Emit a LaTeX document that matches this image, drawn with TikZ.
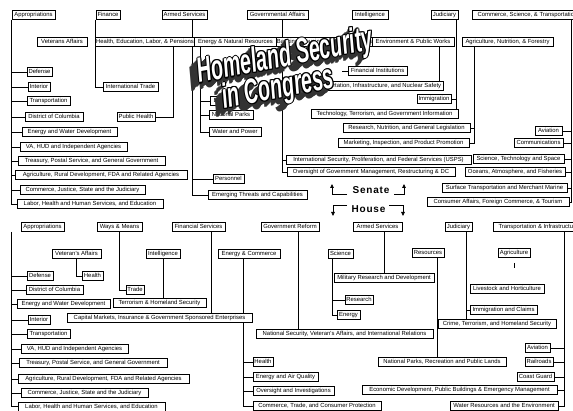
\documentclass[tikz,border=0pt]{standalone}
\usepackage{fontspec}
\newfontfamily\bxfont{Liberation Sans}
\newfontfamily\ttfont{Liberation Sans}
\newfontfamily\lblfont{Liberation Sans}[LetterSpace=8]
\usetikzlibrary{arrows.meta}
\pgfdeclarelayer{back}\pgfdeclarelayer{lines}
\pgfsetlayers{back,lines,main}
\tikzset{
 bx/.style={draw, line width=0.9pt, fill=white, inner sep=0.6pt, minimum height=9pt,
   text height=4.4pt, text depth=1.2pt, font=\bxfont\fontsize{5.9}{6.5}\selectfont},
 cn/.style={line width=0.75pt},
 ttlf/.style={font=\ttfont\bfseries\itshape\fontsize{35}{35}\selectfont, inner sep=0,
   anchor=base, rotate=11, xscale=0.56},
 lbl/.style={font=\lblfont\bfseries\fontsize{10}{10}\selectfont, inner sep=0},
 arr/.style={line width=0.8pt, -{Triangle[length=4pt,width=3.6pt]}}
}
\newcommand\bx[5]{\node[bx, minimum width={#3-#2}] (#1) at ({(#2+#3)/2},#4) {#5};}
\newcommand\ttl[4]{%
 \foreach \d in {1,...,7}{\node[ttlf,text=black!80] (#1s\d) at ({#2-1.2*\d},{#3+1.2*\d}) {#4};}
 \foreach \a in {0,45,...,315}{\node[ttlf,text=black] (#1o\a) at ({#2+1.1*cos(\a)},{#3+1.1*sin(\a)}) {#4};}
 \node[ttlf,text=white] (#1) at (#2,#3) {#4};}
\begin{document}
\begin{tikzpicture}[x=1pt,y=-1pt]
\useasboundingbox (0,0) rectangle (573,411);
\begin{pgfonlayer}{back}\fill[white] (0,0) rectangle (573,411);\end{pgfonlayer}
% ---------------- Senate ----------------
\bx{sapp}{12}{55}{15}{Appropriations}
\bx{sfin}{96}{120}{15}{Finance}
\bx{sarm}{162}{207}{15}{Armed Services}
\bx{sgov}{247}{308}{15}{Governmental Affairs}
\bx{sint}{352}{388}{15}{Intelligence}
\bx{sjud}{431}{458}{15}{Judiciary}
\node[bx, anchor=west, minimum width=110] (scom) at (472,15) {Commerce, Science, \& Transportation};
\bx{sva}{37}{87}{42}{Veterans Affairs}
\bx{shelp}{96}{194}{42}{Health, Education, Labor, \& Pensions}
\bx{senr}{194}{277}{42}{Energy \& Natural Resources}
\bx{sbank}{277}{372}{42}{Banking, Housing, and Urban Affairs}
\bx{sepw}{372}{454}{42}{Environment \& Public Works}
\bx{sag}{462}{553}{42}{Agriculture, Nutrition, \& Forestry}
\bx{sadef}{27}{52}{72}{Defense}
\bx{saint}{28}{50}{87}{Interior}
\bx{satra}{27}{70}{101}{Transportation}
\bx{sadc}{25}{83}{117}{District of Columbia}
\bx{saew}{22}{117}{132}{Energy and Water Development}
\bx{sava}{20}{127}{147}{VA, HUD and Independent Agencies}
\bx{satre}{18}{165}{161}{Treasury, Postal Service, and General Government}
\bx{saag}{15}{187}{175}{Agriculture, Rural Development, FDA and Related Agencies}
\bx{sacjs}{20}{145}{190}{Commerce, Justice, State and the Judiciary}
\bx{salab}{17}{163}{204}{Labor, Health and Human Services, and Education}
\bx{sitr}{103}{158}{87}{International Trade}
\bx{sph}{117}{155}{117}{Public Health}
\bx{spers}{213}{244}{179}{Personnel}
\bx{semerg}{208}{307}{195}{Emerging Threats and Capabilities}
\bx{sen}{210}{236}{101}{Energy}
\bx{snp}{209}{253}{115}{National Parks}
\bx{swp}{209}{261}{132}{Water and Power}
\bx{sisec}{286}{471}{160}{International Security, Proliferation, and Federal Services (USPS)}
\bx{sover}{287}{455}{172}{Oversight of Government Management, Restructuring \& DC}
\bx{sfi}{348}{407}{71}{Financial Institutions}
\bx{stin}{310}{443}{86}{Transportation, Infrastructure, and Nuclear Safety}
\bx{simm}{417}{451}{99}{Immigration}
\bx{stech}{311}{458}{114}{Technology, Terrorism, and Government Information}
\bx{sres}{343}{470}{128}{Research, Nutrition, and General Legislation}
\bx{smark}{338}{469}{143}{Marketing, Inspection, and Product Promotion}
\bx{savi}{535}{562}{131}{Aviation}
\bx{scomm}{514}{563}{143}{Communications}
\bx{ssts}{473}{564}{159}{Science, Technology and Space}
\bx{soaf}{465}{565}{172}{Oceans, Atmosphere, and Fisheries}
\bx{sst}{442}{567}{188}{Surface Transportation and Merchant Marine}
\bx{scaf}{427}{569}{202}{Consumer Affairs, Foreign Commerce, \& Tourism}
% ---------------- House ----------------
\bx{happ}{21}{64}{227}{Appropriations}
\bx{hwm}{97}{142}{227}{Ways \& Means}
\bx{hfs}{172}{225}{227}{Financial Services}
\bx{hgr}{261}{319}{227}{Government Reform}
\bx{harm}{353}{402}{227}{Armed Services}
\bx{hjud}{445}{472}{227}{Judiciary}
\node[bx, anchor=west, minimum width=90] (hti) at (493,227) {Transportation \& Infrastructure};
\bx{hva}{52}{101}{254}{Veteran's Affairs}
\bx{hint}{146}{180}{254}{Intelligence}
\bx{hec}{218}{280}{254}{Energy \& Commerce}
\bx{hsci}{328}{353}{254}{Science}
\bx{hres}{412}{444}{253}{Resources}
\bx{hag}{498}{530}{253}{Agriculture}
\bx{hvh}{82}{103}{276}{Health}
\bx{htrade}{126}{144}{290}{Trade}
\bx{hterr}{113}{206}{303}{Terrorism \& Homeland Security}
\bx{hcap}{67}{252}{318}{Capital Markets, Insurance \& Government Sponsored Enterprises}
\bx{hhe}{253}{273}{362}{Health}
\bx{heaq}{253}{318}{377}{Energy and Air Quality}
\bx{hoi}{253}{334}{391}{Oversight and Investigations}
\bx{hctcp}{253}{381}{406}{Commerce, Trade, and Consumer Protection}
\bx{hns}{256}{433}{334}{National Security, Veteran's Affairs, and International Relations}
\bx{hmil}{334}{434}{278}{Military Research and Development}
\bx{hrs}{345}{373}{300}{Research}
\bx{hen}{337}{360}{315}{Energy}
\bx{hnp}{378}{506}{362}{National Parks, Recreation and Public Lands}
\bx{hlive}{470}{544}{289}{Livestock and Horticulture}
\bx{himm}{470}{537}{310}{Immigration and Claims}
\bx{hcrime}{438}{556}{324}{Crime, Terrorism, and Homeland Security}
\bx{havi}{525}{550}{348}{Aviation}
\bx{hrail}{525}{553}{362}{Railroads}
\bx{hcg}{517}{554}{377}{Coast Guard}
\bx{hed}{362}{557}{390}{Economic Development, Public Buildings \& Emergency Management}
\bx{hwr}{450}{558}{406}{Water Resources and the Environment}
\bx{hadef}{27}{53}{276}{Defense}
\bx{hadc}{26}{83}{290}{District of Columbia}
\bx{haew}{17}{110}{304}{Energy and Water Development}
\bx{haint}{28}{50}{320}{Interior}
\bx{hatra}{27}{70}{334}{Transportation}
\bx{hava}{21}{128}{349}{VA, HUD and Independent Agencies}
\bx{hatre}{19}{167}{363}{Treasury, Postal Service, and General Government}
\bx{haag}{18}{189}{379}{Agriculture, Rural Development, FDA and Related Agencies}
\bx{hacjs}{21}{148}{393}{Commerce, Justice, State and the Judiciary}
\bx{halab}{18}{165}{406.5}{Labor, Health and Human Services, and Education}
% ---------------- connectors ----------------
\coordinate (armx) at ([xshift=7.5pt]sarm.south);
\coordinate (enrx) at ([xshift=-35.5pt]senr.south);
\coordinate (govx) at ([xshift=4.5pt]sgov.south);
\coordinate (epwx) at ([xshift=26pt]sepw.south);
\coordinate (judx) at ([xshift=11.5pt]sjud.south);
\coordinate (agx) at ([xshift=-33.5pt]sag.south);
\coordinate (comx) at ([xshift=99pt]scom.south west);
\coordinate (happx) at ([xshift=-9pt]happ.south west);
\coordinate (fsx) at ([xshift=12.5pt]hfs.south);
\coordinate (ecx) at ([xshift=-6pt]hec.south);
\coordinate (grx) at ([xshift=8pt]hgr.south);
\coordinate (scix) at ([xshift=-8.5pt]hsci.south);
\coordinate (armhx) at ([xshift=6.5pt]harm.south);
\coordinate (resx) at ([xshift=9pt]hres.south);
\coordinate (jhx) at ([xshift=7.5pt]hjud.south);
\coordinate (tix) at ([xshift=71pt]hti.south west);
\begin{pgfonlayer}{lines}
\draw[cn] (sapp.south west) |- (salab.west);
\foreach \n in {sadef,saint,satra,sadc,saew,sava,satre,saag,sacjs}{\draw[cn] (\n.west) -- (\n.west -| sapp.south west);}
\draw[cn] (sfin.south west) |- (sitr.west);
\draw[cn] ([xshift=28pt]shelp.south) |- (sph.east);
\draw[cn] (armx) |- (semerg.west);
\draw[cn] (armx |- spers.west) -- (spers.west);
\draw[cn] (enrx) |- (swp.west);
\draw[cn] (enrx |- snp.west) -- (snp.west);
\draw[cn] (enrx |- sen.west) -- (sen.west);
\draw[cn] (govx) |- (sover.west);
\draw[cn] (govx |- sisec.west) -- (sisec.west);
\draw[cn] (sfi.west) -- ++(-6,0);
\draw[cn] (epwx) -- (epwx |- stin.north);
\draw[cn] (judx) -- (judx |- stech.north);
\draw[cn] (judx |- simm.east) -- (simm.east);
\draw[cn] (agx) |- (smark.east);
\draw[cn] (agx |- sres.east) -- (sres.east);
\draw[cn] (comx) |- (scaf.east);
\foreach \n in {savi,scomm,ssts,soaf,sst}{\draw[cn] (\n.east) -- (\n.east -| comx);}
% House
\draw[cn] (happx) |- (halab.west);
\foreach \n in {hadef,hadc,haew,haint,hatra,hava,hatre,haag,hacjs}{\draw[cn] (\n.west) -- (\n.west -| happx);}
\draw[cn] (hwm.south) |- (htrade.west);
\draw[cn] (hva.south) |- (hvh.west);
\draw[cn] (fsx) -- (fsx |- hcap.north);
\draw[cn] (hint.south) -- (hint.south |- hterr.north);
\draw[cn] (ecx) |- (hctcp.west);
\foreach \n in {hhe,heaq,hoi}{\draw[cn] (\n.west) -- (\n.west -| ecx);}
\draw[cn] (grx) -- (grx |- hns.north);
\draw[cn] (scix) |- (hen.west);
\draw[cn] (scix |- hrs.west) -- (hrs.west);
\draw[cn] (armhx) -- (armhx |- hmil.north);
\draw[cn] (resx) -- (resx |- hnp.north);
\draw[cn] (jhx) -- (jhx |- hcrime.north);
\draw[cn] (jhx |- himm.west) -- (himm.west);
\draw[cn] ([yshift=-5pt]hag.south) -- ([yshift=-10pt]hag.south);
\draw[cn] (tix) |- (hwr.east);
\foreach \n in {havi,hrail,hcg,hed}{\draw[cn] (\n.east) -- (\n.east -| tix);}
\end{pgfonlayer}
% ---------------- Senate / House labels ----------------
\node[lbl] (senate) at (371,190) {Senate};
\node[lbl] (house) at (368.5,209) {House};
\coordinate (sa1) at (347,194); \coordinate (sa2) at (332,184);
\coordinate (sa3) at (394,194); \coordinate (sa4) at (404,184);
\coordinate (ha1) at (347,205); \coordinate (ha2) at (333,216);
\coordinate (ha3) at (389,205); \coordinate (ha4) at (403,216);
\draw[arr] (sa1) -| (sa2);
\draw[arr] (sa3) -| (sa4);
\draw[arr] (ha1) -| (ha2);
\draw[arr] (ha3) -| (ha4);
% ---------------- title ----------------
\ttl{tA}{287}{66}{Homeland Security}
\ttl{tB}{280}{98}{in Congress}
\end{tikzpicture}
\end{document}
